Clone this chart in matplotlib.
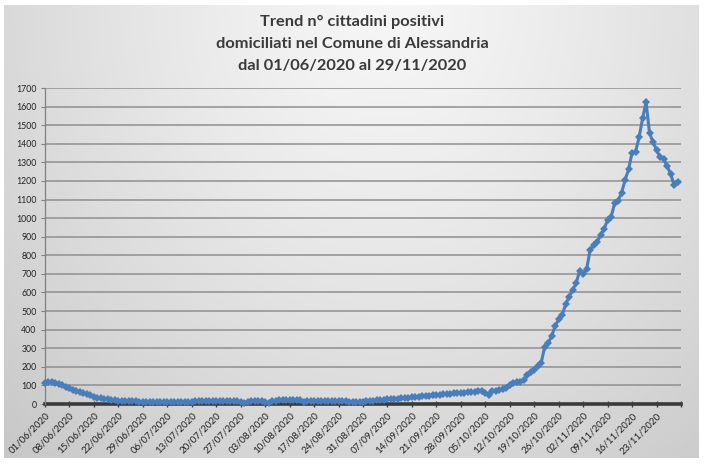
import numpy as np
import matplotlib
matplotlib.use("Agg")
import matplotlib.pyplot as plt
import datetime as dt

title = "Trend n° cittadini positivi\ndomiciliati nel Comune di Alessandria\ndal 01/06/2020 al 29/11/2020"

start = dt.date(2020, 6, 1)
# daily values 01/06/2020 .. 29/11/2020 (182 days)
june = [115, 118, 116, 112, 108, 100, 92, 85, 78, 70, 64, 58, 52, 46,
        38, 32, 30, 28, 25, 22, 20, 18, 17, 16, 15, 14, 14, 13, 13, 12]
july = [12, 11, 11, 10, 10, 11, 11, 12, 12, 12, 13, 13, 13, 14, 14, 14,
        14, 14, 15, 15, 15, 15, 16, 16, 16, 16, 10, 6, 12, 15, 16]
august = [17, 18, 12, 7, 15, 18, 19, 20, 20, 20, 21, 21, 20, 9, 14, 16,
          16, 16, 15, 15, 15, 14, 14, 14, 14, 14, 13, 13, 12, 12, 12]
september = [14, 16, 18, 20, 22, 23, 25, 26, 28, 29, 31, 32, 34, 35, 37,
             39, 41, 43, 45, 46, 48, 50, 52, 53, 55, 57, 58, 60, 61, 63]
october = [65, 67, 69, 68, 60, 50, 68, 72, 75, 80, 86, 100, 115, 118,
           120, 130, 156, 170, 185, 204, 222, 308, 328, 366, 419, 457,
           478, 537, 577, 613, 650]
november = [717, 699, 726, 828, 855, 873, 909, 944, 989, 1007, 1079, 1093,
            1137, 1205, 1262, 1352, 1357, 1434, 1536, 1625, 1456, 1410,
            1365, 1330, 1318, 1280, 1240, 1180, 1195]
values = june + july + august + september + october + november
days = np.arange(len(values))

tick_days = np.arange(0, 183, 7)
tick_labels = [(start + dt.timedelta(days=int(d))).strftime("%d/%m/%Y") if d < 182 else ""
               for d in tick_days]
y_ticks = np.arange(0, 1701, 100)

W, H, DPI = 7.04, 4.65, 100
fig = plt.figure(figsize=(W, H), dpi=DPI)
fig.patch.set_facecolor("white")

# gradient background panel
bg = fig.add_axes([4 / 704, 1 - 458 / 465, 694 / 704, 453 / 465], zorder=0)
ny, nx = 200, 300
yy, xx = np.mgrid[0:1:ny * 1j, 0:1:nx * 1j]
d = np.sqrt(((xx - 0.55) / 0.75) ** 2 + ((yy - 0.0) / 1.3) ** 2)
g = 0.965 - 0.17 * np.clip(d, 0, 1.2) ** 1.3
img = np.dstack([g, g, g])
bg.imshow(img, aspect="auto", extent=[0, 1, 1, 0], interpolation="bilinear")
bg.set_axis_off()

ax = fig.add_axes([45 / 704, 1 - 404 / 465, 636 / 704, 316 / 465], zorder=1)
ax.patch.set_alpha(0)
ax.set_xlim(0, 182)
ax.set_ylim(0, 1700)

for yv in y_ticks[1:]:
    ax.axhline(yv, color="#8f8f8f", lw=1.1, zorder=1)

ax.plot(days, values, color="#4a7ebb", lw=2.2, marker="D", ms=3.6,
        markeredgewidth=0, zorder=3, clip_on=False)

ax.set_yticks(y_ticks)
ax.set_yticklabels([str(v) for v in y_ticks], fontsize=6.3, color="#222222",
                   family="Lato")
ax.set_xticks(tick_days)
ax.set_xticklabels(tick_labels, rotation=45, ha="right", rotation_mode="anchor",
                   fontsize=7, color="#222222", family="Lato")
ax.tick_params(axis="x", length=4, width=1, color="#404040", direction="inout", pad=3)
ax.tick_params(axis="y", length=3, width=0.8, color="#808080", pad=3)

for s in ["top", "right"]:
    ax.spines[s].set_visible(False)
ax.spines["left"].set_color("#808080")
ax.spines["left"].set_linewidth(0.9)
ax.spines["bottom"].set_color("#3a3a3a")
ax.spines["bottom"].set_linewidth(2.6)
ax.spines["bottom"].set_zorder(2)

fig.text(0.5, 1 - 44 / 465, title, ha="center", va="center", fontsize=11.8,
         family="Lato", fontweight="bold", color="#3a3a3a", linespacing=1.7)

fig.savefig("out.png", dpi=DPI)
